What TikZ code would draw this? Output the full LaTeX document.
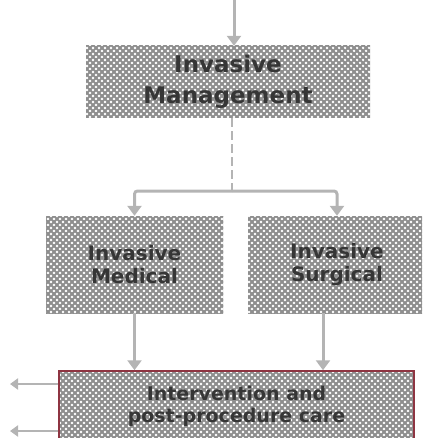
\documentclass[tikz,border=0pt]{standalone}
\usepackage{fontspec}
\setmainfont{DejaVu Sans}
\usetikzlibrary{arrows.meta,patterns}

% diagonal cross-hatch tile used as the box fill
\pgfdeclarepatternformonly{xgrid}{\pgfqpoint{-1pt}{-1pt}}{\pgfqpoint{7pt}{7pt}}{\pgfqpoint{6pt}{6pt}}{%
  \pgfsetlinewidth{2.1pt}%
  \pgfpathmoveto{\pgfqpoint{-1pt}{-1pt}}\pgfpathlineto{\pgfqpoint{7pt}{7pt}}%
  \pgfpathmoveto{\pgfqpoint{-1pt}{7pt}}\pgfpathlineto{\pgfqpoint{7pt}{-1pt}}%
  \pgfusepath{stroke}}

\definecolor{linkgray}{HTML}{B4B4B4}
\definecolor{hatchgray}{HTML}{8E8E8E}
\definecolor{labelgray}{HTML}{363636}
\definecolor{careborder}{HTML}{8E3441}

\tikzset{
  box/.style={pattern=xgrid, pattern color=hatchgray, draw=none,
    inner sep=0pt, align=center, text=labelgray, font=\bfseries},
  conn/.style={draw=linkgray, line width=3pt,
    -{Triangle[width=14pt,length=10pt]}},
  dashlink/.style={draw=linkgray, line width=1.5pt, dash pattern=on 9pt off 4pt},
  outarrow/.style={draw=linkgray, line width=2.5pt,
    -{Triangle[width=11pt,length=8pt]}},
}

\begin{document}
\begin{tikzpicture}[x=1pt,y=-1pt]
  \useasboundingbox (0,0) rectangle (422,438);
  \clip (0,0) rectangle (422,438);

  % boxes
  \node[box, minimum width=284pt, minimum height=72pt,
        font=\bfseries\fontsize{23}{31}\selectfont]
    (mgmt) at (228,82) {Invasive\\Management};
  \node[box, minimum width=177pt, minimum height=97pt,
        font=\bfseries\fontsize{20}{23}\selectfont]
    (med) at (134.5,264.5) {Invasive\\Medical};
  \node[box, minimum width=178pt, minimum height=97pt,
        font=\bfseries\fontsize{20}{23}\selectfont]
    (surg) at (337,264.5) {Invasive\\Surgical};
  \node[box, draw=careborder, line width=1.5pt,
        minimum width=355pt, minimum height=70pt,
        font=\bfseries\fontsize{19}{22}\selectfont]
    (care) at (236.5,406) {Intervention and\\post-procedure care};

  % helper points for the connectors
  \coordinate (src) at (234,-5);
  \coordinate (split) at (232,191);
  \coordinate (sx) at (323,0);
  \coordinate (out1) at (10,384);
  \coordinate (out2) at (10,431);

  % incoming arrow
  \draw[conn] (src) -- (src |- mgmt.north);
  % dashed stem and branching bar
  \draw[dashlink] (mgmt.south -| split) -- (split);
  \draw[conn, rounded corners=3pt] (split) -| (med.north);
  \draw[conn, rounded corners=3pt] (split) -| (surg.north);
  % into the care box
  \draw[conn] (med.south) -- (med.south |- care.north);
  \draw[conn] (surg.south -| sx) -- (care.north -| sx);
  % outgoing arrows on the left
  \draw[outarrow] (care.west |- out1) -- (out1);
  \draw[outarrow] (care.west |- out2) -- (out2);
\end{tikzpicture}
\end{document}
